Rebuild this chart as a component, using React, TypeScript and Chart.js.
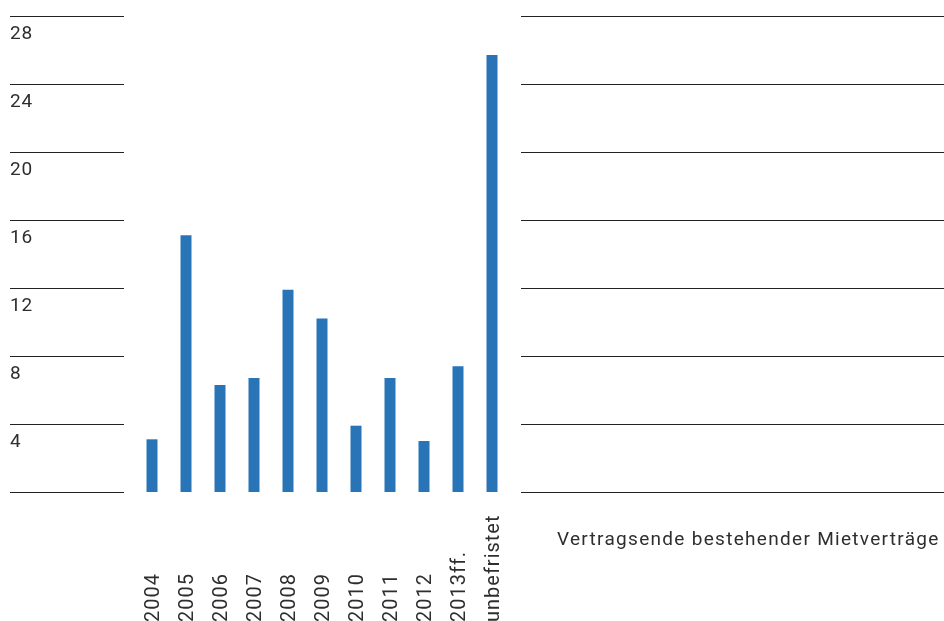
import React, { useEffect, useRef } from "react";
import { Chart, registerables } from "chart.js";

Chart.register(...registerables);

const categories = ["2004", "2005", "2006", "2007", "2008", "2009", "2010", "2011", "2012", "2013ff.", "unbefristet"];
const values = [3.1, 15.1, 6.3, 6.7, 11.9, 10.2, 3.9, 6.7, 3.0, 7.4, 25.7];
const yTicks = [0, 4, 8, 12, 16, 20, 24, 28];
const caption = "Vertragsende bestehender Mietverträge";

const FONT = "Roboto, 'DejaVu Sans', sans-serif";
const TEXT = "#2e2e2e";

const customPlugin = {
  id: "customDecor",
  beforeDatasetsDraw(chart: any) {
    const { ctx, chartArea, scales } = chart;
    const y = scales.y;
    const x = scales.x;
    ctx.save();
    ctx.strokeStyle = "#222222";
    ctx.lineWidth = 1;
    yTicks.forEach((t) => {
      const py = Math.round(y.getPixelForValue(t)) + 0.5;
      ctx.beginPath();
      ctx.moveTo(10, py);
      ctx.lineTo(chartArea.left - 11, py);
      ctx.moveTo(chartArea.right + 12, py);
      ctx.lineTo(chart.width, py);
      ctx.stroke();
    });
    ctx.fillStyle = TEXT;
    ctx.font = `19px ${FONT}`;
    ctx.letterSpacing = "0.8px";
    ctx.textAlign = "left";
    ctx.textBaseline = "alphabetic";
    yTicks.forEach((t) => {
      if (t === 0) return;
      const py = y.getPixelForValue(t);
      ctx.fillText(String(t), 10, py + 23);
    });
    ctx.font = `20px ${FONT}`;
    ctx.letterSpacing = "1px";
    categories.forEach((c, i) => {
      const px = x.getPixelForValue(i);
      ctx.save();
      ctx.translate(px + 6.5, 622);
      ctx.rotate(-Math.PI / 2);
      ctx.textAlign = "left";
      ctx.textBaseline = "alphabetic";
      ctx.fillText(c, 0, 0);
      ctx.restore();
    });
    ctx.font = `19px ${FONT}`;
    ctx.letterSpacing = "1.3px";
    ctx.textAlign = "left";
    ctx.fillText(caption, 557, 545);
    ctx.restore();
  },
};

export default function App() {
  const ref = useRef<HTMLCanvasElement | null>(null);
  useEffect(() => {
    if (!ref.current) return;
    const chart = new Chart(ref.current, {
      type: "bar",
      data: {
        labels: categories,
        datasets: [
          {
            data: values,
            backgroundColor: "#2874b7",
            borderWidth: 0,
            categoryPercentage: 1,
            barPercentage: 11 / 34,
          },
        ],
      },
      options: {
        responsive: false,
        animation: false,
        devicePixelRatio: 1,
        layout: { padding: { left: 135, right: 435, top: 16, bottom: 129 } },
        plugins: { legend: { display: false }, tooltip: { enabled: false } },
        scales: {
          x: { display: false, offset: true },
          y: { display: false, min: 0, max: 28, ticks: { stepSize: 4 } },
        },
      },
      plugins: [customPlugin],
    });
    return () => chart.destroy();
  }, []);
  return (
    <canvas
      ref={ref}
      width={944}
      height={621}
      style={{ position: "absolute", left: 0, top: 0, width: 944, height: 621, display: "block" }}
    />
  );
}
